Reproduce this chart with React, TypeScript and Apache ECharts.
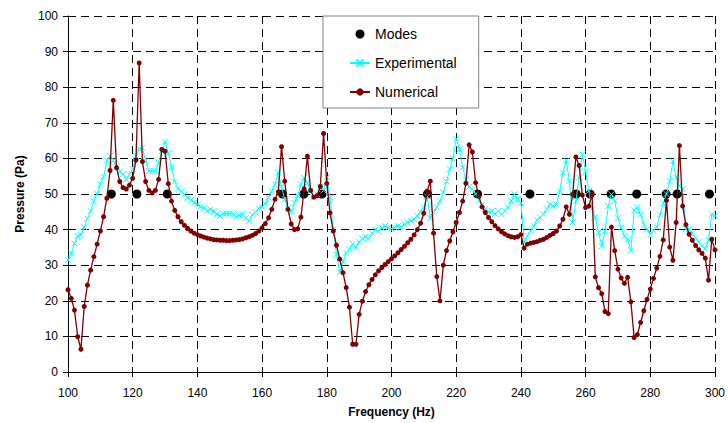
import React, { useEffect, useRef } from "react";
import * as echarts from "echarts";

// Frequency samples (Hz), 1 Hz step from 100 to 300
const frequencies: number[] = Array.from({ length: 201 }, (_, i) => 100 + i);

const numerical: number[] = [
  23.1, 20.7, 17.4, 9.9, 6.4, 18.4, 24.4, 28.6, 32.4, 35.9,
  39.6, 43.6, 48.8, 56.6, 76.3, 57.4, 53.5, 51.8, 51.4, 52.5,
  54.4, 59.5, 86.8, 59.1, 53.5, 51.0, 50.3, 51.0, 54.1, 62.5,
  62.0, 52.9, 48.0, 45.4, 43.6, 42.2, 41.2, 40.3, 39.6, 39.0,
  38.6, 38.2, 37.9, 37.6, 37.4, 37.2, 37.1, 37.0, 37.0, 36.9,
  36.9, 37.0, 37.1, 37.2, 37.4, 37.7, 38.0, 38.4, 38.9, 39.6,
  40.5, 41.7, 43.3, 45.7, 48.5, 50.6, 63.3, 53.6, 45.7, 41.6,
  40.0, 40.2, 43.5, 51.4, 60.6, 51.0, 49.1, 49.5, 52.1, 67.0,
  53.0, 44.7, 39.6, 35.6, 31.7, 27.9, 23.7, 18.2, 7.8, 7.8,
  16.2, 19.9, 22.6, 24.5, 26.0, 27.3, 28.4, 29.3, 30.2, 31.0,
  31.8, 32.6, 33.5, 34.4, 35.3, 36.3, 37.3, 38.5, 40.0, 41.8,
  44.6, 50.8, 53.6, 39.0, 26.8, 20.0, 30.0, 34.1, 36.8, 39.4,
  42.0, 44.8, 48.0, 53.0, 63.8, 61.8, 53.2, 49.4, 46.4, 44.8,
  43.4, 42.2, 41.1, 40.2, 39.4, 38.8, 38.3, 38.0, 37.8, 38.0,
  38.6, 34.8, 35.9, 36.2, 36.4, 36.6, 37.0, 37.3, 37.8, 38.4,
  38.9, 39.6, 41.0, 42.9, 46.4, 44.3, 49.9, 60.4, 58.0, 49.7,
  46.2, 46.6, 49.9, 26.7, 23.7, 22.0, 17.0, 16.4, 40.7, 34.1,
  28.9, 26.4, 24.9, 26.6, 19.7, 9.7, 10.5, 13.9, 17.2, 20.4,
  23.3, 26.3, 29.2, 32.5, 37.1, 48.2, 35.1, 31.4, 42.0, 63.6,
  46.6, 41.4, 38.7, 37.0, 35.5, 34.3, 33.3, 32.0, 25.8, 37.3,
  34.3,
];

const experimental: number[] = [
  31.4, 33.3, 36.1, 38.2, 38.5, 40.7, 43.1, 45.2, 47.9, 50.1,
  52.7, 54.8, 59.4, 60.7, 59.4, 57.6, 56.3, 55.5, 54.1, 55.5,
  56.9, 60.7, 62.8, 63.0, 59.3, 56.4, 56.4, 56.4, 58.8, 62.0,
  64.7, 61.5, 57.5, 53.5, 51.5, 50.7, 49.9, 49.0, 48.3, 47.6,
  47.1, 46.4, 46.2, 45.2, 45.7, 45.2, 44.3, 43.8, 44.5, 44.5,
  44.5, 44.5, 43.6, 44.0, 44.3, 43.2, 42.4, 44.1, 44.8, 46.0,
  46.4, 47.3, 49.0, 50.8, 52.7, 56.0, 52.0, 48.5, 46.0, 45.0,
  47.5, 49.5, 52.7, 54.5, 53.0, 51.0, 49.0, 50.0, 52.0, 51.0,
  54.7, 49.0, 40.0, 33.0, 28.0, 31.0, 33.5, 34.5, 36.0, 35.0,
  36.5, 37.5, 38.0, 37.5, 39.0, 40.0, 39.5, 40.5, 41.0, 40.5,
  40.3, 40.6, 41.0, 40.8, 41.5, 42.0, 42.4, 42.9, 43.8, 45.0,
  46.2, 49.3, 43.2, 44.8, 46.3, 48.0, 50.5, 53.5, 57.0, 60.0,
  65.5, 62.5, 57.5, 54.0, 52.0, 51.3, 50.0, 48.2, 47.0, 45.8,
  45.0, 45.2, 44.4, 45.2, 44.3, 45.2, 46.2, 48.0, 49.9, 48.5,
  47.5, 36.4, 38.2, 39.6, 41.0, 42.6, 43.4, 44.3, 45.7, 47.1,
  46.6, 47.1, 50.8, 56.0, 59.4, 53.6, 42.0, 48.0, 54.6, 61.1,
  56.4, 50.8, 45.7, 43.4, 39.2, 35.4, 39.6, 46.6, 49.9, 48.0,
  43.2, 40.6, 38.2, 37.3, 34.2, 45.4, 46.2, 44.2, 41.4, 40.1,
  38.7, 39.8, 40.7, 44.2, 47.4, 50.0, 53.6, 59.2, 54.7, 52.4,
  51.3, 40.1, 40.1, 39.0, 37.6, 36.5, 35.5, 34.6, 37.0, 44.3,
  43.9,
];

const modeFrequencies: number[] = [
  113.4, 121.3, 130.7, 166.3, 172.9, 178.5, 211.1, 226.6,
  242.8, 257.1, 261.4, 267.9, 275.8, 284.9, 288.3, 298.3,
];
const modePressures: number[] = [
  50, 50, 50, 50, 50, 50, 50, 50, 50, 50, 50, 50, 50, 50, 50, 50,
];

const X_MIN = 100;
const X_MAX = 300;
const X_STEP = 20;
const Y_MIN = 0;
const Y_MAX = 100;
const Y_STEP = 10;

const FONT = 'Arial, "Liberation Sans", sans-serif';

export default function App() {
  const ref = useRef<HTMLDivElement>(null);

  useEffect(() => {
    document.body.style.margin = "0";
    if (!ref.current) return;
    const chart = echarts.init(ref.current, null, { renderer: "svg" });

    const numData = frequencies.map((f, i) => [f, numerical[i]]);
    const expData = frequencies.map((f, i) => [f, experimental[i]]);
    const modeData = modeFrequencies.map((f, i) => [f, modePressures[i]]);

    const dashed = { color: "#000", width: 1, type: [8, 5] as number[] };

    chart.setOption({
      animation: false,
      backgroundColor: "#fff",
      textStyle: { fontFamily: FONT },
      grid: { left: 68, right: 12, top: 16, bottom: 50, containLabel: false },
      legend: {
        orient: "vertical",
        left: 323,
        top: 16,
        padding: [11, 22, 9, 26],
        itemWidth: 20,
        itemHeight: 9,
        itemGap: 15,
        backgroundColor: "#fff",
        borderColor: "#808080",
        borderWidth: 1,
        borderRadius: 0,
        textStyle: { fontFamily: FONT, fontSize: 14, color: "#000", lineHeight: 14 },
        data: [
          { name: "Modes", icon: "circle" },
          { name: "Experimental" },
          { name: "Numerical" },
        ],
      },
      xAxis: {
        type: "value",
        min: X_MIN,
        max: X_MAX,
        interval: X_STEP,
        name: "Frequency (Hz)",
        nameLocation: "middle",
        nameGap: 34,
        nameTextStyle: { fontFamily: FONT, fontSize: 12, fontWeight: "bold", color: "#000" },
        axisLine: { show: true, onZero: false, lineStyle: { color: "#000", width: 1 } },
        axisTick: { show: true, inside: false, length: 5, lineStyle: { color: "#000" } },
        axisLabel: { fontFamily: FONT, fontSize: 12, color: "#000", margin: 15 },
        splitLine: { show: true, lineStyle: dashed },
      },
      yAxis: {
        type: "value",
        min: Y_MIN,
        max: Y_MAX,
        interval: Y_STEP,
        name: "Pressure (Pa)",
        nameLocation: "middle",
        nameGap: 42,
        nameRotate: 90,
        nameTextStyle: { fontFamily: FONT, fontSize: 12, fontWeight: "bold", color: "#000" },
        axisLine: { show: true, onZero: false, lineStyle: { color: "#000", width: 1 } },
        axisTick: { show: true, inside: false, length: 5, lineStyle: { color: "#000" } },
        axisLabel: { fontFamily: FONT, fontSize: 12, color: "#000", margin: 10 },
        splitLine: { show: true, lineStyle: dashed },
      },
      series: [
        {
          name: "Modes",
          type: "scatter",
          data: modeData,
          symbol: "circle",
          symbolSize: 9,
          itemStyle: { color: "#000", opacity: 1 },
          z: 2,
        },
        {
          name: "Experimental",
          type: "line",
          data: expData,
          showSymbol: true,
          showAllSymbol: true,
          symbol: "path://M0,0L10,10M10,0L0,10",
          symbolSize: 6,
          lineStyle: { color: "#00FFFF", width: 1 },
          itemStyle: { color: "#00FFFF", borderColor: "#00FFFF", borderWidth: 1 },
          z: 3,
        },
        {
          name: "Numerical",
          type: "line",
          data: numData,
          showSymbol: true,
          showAllSymbol: true,
          symbol: "circle",
          symbolSize: 5,
          lineStyle: { color: "#800000", width: 1.3 },
          itemStyle: { color: "#800000", borderColor: "#800000", borderWidth: 0 },
          z: 4,
        },
      ],
    });

    return () => chart.dispose();
  }, []);

  return <div ref={ref} style={{ width: 728, height: 423 }} />;
}
